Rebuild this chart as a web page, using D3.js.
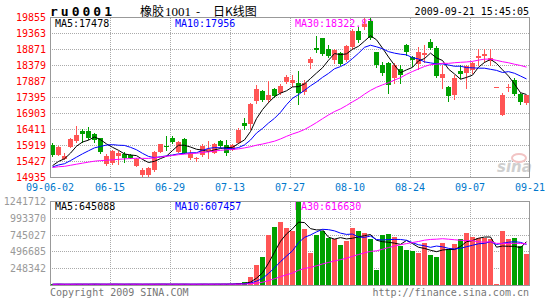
<!DOCTYPE html>
<html>
<head>
<meta charset="utf-8">
<script src="https://d3js.org/d3.v7.min.js"></script>
<style type="text/css">
body {margin:0;background:#fff;}
svg text {font-family:"DejaVu Sans Mono", monospace; font-size:10px;}
</style>
</head>
<body>
<svg id="chart" width="545" height="300"></svg>
<script type="text/javascript">
// closes before 09-06-02, only used so the moving averages start where they do
var prevCloses = [15180,15220,15150,15260,15300,15240,15190,15210,15280,15320,15250,15170,15200,15230,15290,
                  15260,15210,15180,15240,15300,15270,15220,15160,15200,15250,15230,15190,15260,15180];

var opens  = [15940,15648,15519,15888,16063,16380,16371,16279,16147,15347,15396,15620,15664,15633,15295,15018,15018,15150,15734,15910,
              16165,15734,16125,15540,15500,15633,15734,15704,16063,15940,15787,16000,16626,16586,17294,17610,17324,17653,17540,17868,
              17816,17838,17550,18453,18923,19210,18893,18557,18760,18557,18930,19430,19569,19753,18780,18400,18453,17990,18268,19000,
              18637,18400,18688,19117,18930,18010,17733,17477,18220,18125,18268,18606,18688,18520,17733,16865,17700,17940,17510,17200];
var highs  = [15993,15890,15685,16146,16525,16423,16485,16300,16165,15655,15787,15765,15704,15660,15520,15224,15273,15756,15980,16196,
              16196,16060,16146,15780,15580,15960,16070,16000,16080,16073,15960,16460,16762,17223,17786,17632,17909,17700,17800,18093,
              18093,18196,17918,18626,19271,19230,19000,18900,18800,19000,19500,19550,19836,19855,18800,18500,18500,18453,18400,19050,
              18680,18950,19000,19180,18990,18400,17740,18100,18380,18400,18500,18900,18900,18900,17733,17540,17810,18000,17520,17470];
var lows   = [15600,15640,15501,15870,16042,16042,16125,16042,15685,15325,15347,15347,15427,15520,15280,14966,14987,15120,15720,15787,
              16010,15720,15685,15500,15450,15600,15550,15680,15880,15620,15770,15990,16423,16423,17230,17294,17272,17400,17510,17838,
              17746,17200,17500,18300,18780,18700,18630,18450,18400,18520,18900,19100,19498,19200,18330,18100,17530,17838,17838,18700,
              18350,18280,18500,18900,18040,17700,17300,17360,17995,17700,18140,18400,18500,18400,17733,16865,17580,17470,17200,17190];
var closes = [15633,15879,15602,16125,16248,16279,16165,16094,15704,15602,15756,15700,15532,15550,15501,15172,15224,15716,15971,15870,
              16042,16042,15704,15700,15530,15910,15810,15971,15910,15680,15940,16400,16525,17201,17663,17324,17478,17426,17755,18022,
              17918,17530,17838,18586,18862,18730,18688,18862,18422,18985,19430,19150,19661,19240,18370,18145,17786,18400,18093,18800,
              18530,18780,18760,18930,18072,18123,17456,18010,18125,18350,18470,18680,18740,18600,17733,17478,17720,17505,17275,17460];
var volumes = [18000,21000,16000,19000,23000,17000,20000,22000,15000,19000,24000,18000,16000,21000,20000,17000,22000,19000,23000,18000,
               16000,20000,21000,17000,19000,22000,18000,24000,20000,21000,26000,34000,49000,124000,307000,422000,750000,860000,935000,845000,
               800000,1241712,830000,485000,752000,805000,700000,685000,597000,655000,855000,800000,778000,680000,236000,742000,760000,713000,587000,529000,
               510000,485000,630000,452000,424000,630000,534000,616000,684000,770000,720000,705000,700000,690000,19000,800000,690000,700000,580000,470000];

var priceTicks = [19855,19363,18871,18379,17887,17395,16903,16411,15919,15427,14935];
var volTicks = [1241712,993370,745027,496685,248342];
var dateIdx = [0,10,20,30,40,50,60,70,80];
var dateLabels = ["09-06-02","06-15","06-29","07-13","07-27","08-10","08-24","09-07","09-21"];
var priceLegend = ["MA5:17478","MA10:17956","MA30:18322.83"];
var volLegend = ["MA5:645088","MA10:607457","MA30:616630"];
var maDays = [5,10,30];
var maColors = ["#000000","#0000ff","#ff00ff"];
var upColor = "#ff5555", downColor = "#00a000";

var svg = d3.select("#chart");
var x = d3.scaleLinear().domain([0,80]).range([50,530]);
var yP = d3.scaleLinear().domain([14935,19855]).range([177.5,17.5]);
var yV = d3.scaleLinear().domain([0,1241712]).range([285.5,201.5]);
var crisp = function(v) { return Math.round(v - 0.5) + 0.5; };

// header
svg.append("text").attr("x",50).attr("y",16)
	.style("font-size","13px").style("font-weight","bold").style("letter-spacing","3px")
	.text("ru0001");
var ttl = svg.append("text").attr("y",16).style("font-family","'Noto Sans CJK SC'").style("font-size","12px");
ttl.append("tspan").attr("x",140).text("橡胶");
ttl.append("tspan").attr("x",165).style("font-family","'Liberation Serif'").style("font-size","13px").text("1001");
ttl.append("tspan").attr("x",196).text("-");
ttl.append("tspan").attr("x",213).text("日K线图");
svg.append("text").attr("x",529).attr("y",15).attr("text-anchor","end").text("2009-09-21 15:45:05");

// grids
function hgrid(vals, sc) {
	svg.append("g").selectAll("line").data(vals).enter().append("line")
		.attr("x1",50).attr("x2",530)
		.attr("y1",function(d){return crisp(sc(d));}).attr("y2",function(d){return crisp(sc(d));})
		.attr("stroke","#aaa").attr("stroke-dasharray","1,1");
}
hgrid(priceTicks, yP);
hgrid(volTicks, yV);
svg.append("g").selectAll("line").data(dateIdx.slice(1,8)).enter().append("line")
	.attr("x1",function(d){return x(d)+0.5;}).attr("x2",function(d){return x(d)+0.5;})
	.attr("y1",18).attr("y2",178).attr("stroke","#aaa").attr("stroke-dasharray","1,1");
svg.append("g").selectAll("line").data(dateIdx.slice(1,8)).enter().append("line")
	.attr("x1",function(d){return x(d)+0.5;}).attr("x2",function(d){return x(d)+0.5;})
	.attr("y1",202).attr("y2",286).attr("stroke","#aaa").attr("stroke-dasharray","1,1");

// axis labels
svg.append("g").selectAll("text").data(priceTicks).enter().append("text")
	.attr("x",46).attr("y",function(d){return yP(d)+3.5;}).attr("text-anchor","end")
	.attr("fill","#ff0000").text(function(d){return d;});
svg.append("g").selectAll("text").data(volTicks).enter().append("text")
	.attr("x",46).attr("y",function(d){return yV(d)+3.5;}).attr("text-anchor","end")
	.attr("fill","#999").text(function(d){return d;});
svg.append("g").selectAll("text").data(dateIdx).enter().append("text")
	.attr("x",function(d){return x(d);}).attr("y",191).attr("text-anchor","middle")
	.attr("fill","#0077cc").text(function(d,i){return dateLabels[i];});

// legends (drawn under the marks, as in the original)
[0,1,2].forEach(function(k) {
	svg.append("text").attr("x",55+120*k).attr("y",27).attr("fill",maColors[k]).text(priceLegend[k]);
	svg.append("text").attr("x",55+120*k).attr("y",210).attr("fill",maColors[k]).text(volLegend[k]);
});

// sina mark
svg.append("ellipse").attr("cx",519).attr("cy",158).attr("rx",7).attr("ry",4)
	.attr("fill","none").attr("stroke","#f2c4c4").attr("stroke-width",2);
svg.append("text").attr("x",497).attr("y",172).attr("fill","#cfcfcf")
	.style("font-family","'DejaVu Sans'").style("font-size","15px").style("font-weight","bold").style("font-style","italic")
	.text("sina");

// candles
var idx = d3.range(closes.length);
var isUp = function(i){ return closes[i] >= opens[i]; };
var cg = svg.append("g");
cg.selectAll("line").data(idx).enter().append("line")
	.attr("x1",function(i){return x(i)+2.5;}).attr("x2",function(i){return x(i)+2.5;})
	.attr("y1",function(i){return Math.round(yP(highs[i]));}).attr("y2",function(i){return Math.round(yP(lows[i]))+1;})
	.attr("stroke",function(i){return isUp(i)?upColor:downColor;});
cg.selectAll("rect").data(idx).enter().append("rect")
	.attr("x",function(i){return x(i);}).attr("width",5)
	.attr("y",function(i){return Math.round(yP(Math.max(opens[i],closes[i])));})
	.attr("height",function(i){return Math.max(1,Math.round(Math.abs(yP(opens[i])-yP(closes[i]))));})
	.attr("fill",function(i){return isUp(i)?upColor:downColor;});

// volume bars
svg.append("g").selectAll("rect").data(idx).enter().append("rect")
	.attr("x",function(i){return x(i);}).attr("width",5)
	.attr("y",function(i){return Math.min(284.5,Math.round(yV(volumes[i])));})
	.attr("height",function(i){return Math.max(1,285.5-Math.min(284.5,Math.round(yV(volumes[i]))));})
	.attr("fill",function(i){return isUp(i)?upColor:downColor;});

// moving averages
function movAvg(series, n, offset) {
	return idx.map(function(i) {
		var k = i + offset;
		var part = series.slice(Math.max(0,k-n+1), k+1);
		return d3.mean(part);
	});
}
var allCloses = prevCloses.concat(closes);
maDays.forEach(function(n,k) {
	var pm = movAvg(allCloses, n, prevCloses.length);
	var vm = movAvg(volumes, n, 0);
	svg.append("path").datum(pm).attr("fill","none").attr("stroke",maColors[k])
		.attr("d", d3.line().x(function(d,i){return x(i)+2.5;}).y(function(d){return yP(d);}));
	svg.append("path").datum(vm).attr("fill","none").attr("stroke",maColors[k])
		.attr("d", d3.line().x(function(d,i){return x(i)+2.5;}).y(function(d){return yV(d);}));
});

// frames
svg.append("rect").attr("x",50.5).attr("y",17.5).attr("width",479).attr("height",160)
	.attr("fill","none").attr("stroke","#999");
svg.append("rect").attr("x",50.5).attr("y",201.5).attr("width",479).attr("height",84)
	.attr("fill","none").attr("stroke","#999");

// footer
svg.append("text").attr("x",50).attr("y",296).attr("fill","#777").text("Copyright 2009 SINA.COM");
svg.append("text").attr("x",529).attr("y",296).attr("text-anchor","end").attr("fill","#777").text("http://finance.sina.com.cn");
</script>
</body>
</html>
